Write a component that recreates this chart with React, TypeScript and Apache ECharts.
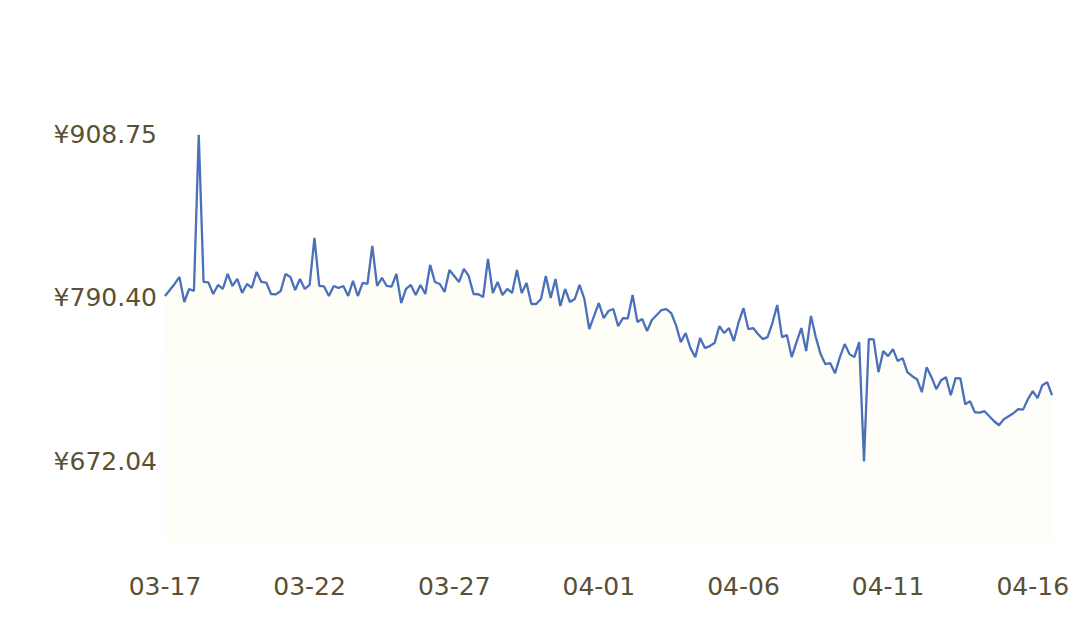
import React, { useEffect, useRef } from "react";
import * as echarts from "echarts";

const startDate = [2024, 2, 17]; // 2024-03-17 00:00
const stepHours = 4;
const tickLabels = ["03-17", "03-22", "03-27", "04-01", "04-06", "04-11", "04-16"];
const yTicks = [672.04, 790.4, 908.75];
const yMin = 612.86;
const yMax = 967.93;

const prices = [
  791.85, 796.2, 800.56, 805.64, 787.49, 796.93, 795.48, 908.75, 802.01, 801.7,
  793.3, 799.83, 796.93, 807.82, 799.11, 804.19, 794.03, 800.56, 797.66, 809.27,
  802.01, 801.6, 793.3, 793.0, 795.48, 807.82, 805.64, 796.2, 804.19, 796.93,
  799.83, 833.96, 799.11, 798.8, 791.85, 799.11, 797.66, 799.11, 791.85, 802.74,
  791.85, 801.29, 800.56, 828.15, 799.11, 804.92, 799.11, 798.7, 807.82, 786.77,
  796.93, 799.83, 792.57, 799.83, 793.3, 814.36, 802.01, 800.56, 794.75, 810.73,
  806.37, 802.01, 811.45, 806.37, 793.3, 793.1, 791.12, 818.71, 794.03, 802.01,
  792.57, 796.93, 794.03, 810.73, 794.03, 801.29, 786.04, 786.04, 789.67, 806.37,
  790.4, 804.19, 784.59, 796.93, 787.49, 789.67, 799.83, 789.67, 767.89, 777.33,
  786.77, 775.87, 780.96, 782.41, 770.06, 775.87, 775.6, 792.57, 772.97, 775.15,
  766.43, 774.42, 778.05, 781.68, 782.41, 779.5, 770.79, 758.45, 764.98, 754.09,
  747.56, 761.35, 754.09, 755.54, 757.72, 770.06, 764.98, 768.61, 759.17, 772.97,
  783.13, 767.89, 768.61, 764.26, 760.63, 762.08, 772.24, 785.31, 762.08, 763.53,
  747.56, 758.45, 768.61, 751.91, 777.33, 762.08, 749.73, 742.47, 743.2, 735.94,
  747.56, 757.0, 749.73, 747.56, 758.45, 672.04, 760.63, 760.4, 736.66, 751.91,
  748.28, 753.36, 744.65, 746.83, 736.66, 733.76, 731.58, 722.14, 740.29, 733.03,
  724.32, 730.86, 733.03, 719.96, 732.31, 732.1, 713.43, 715.61, 707.62, 707.4,
  708.35, 704.72, 701.09, 698.18, 702.54, 704.72, 706.89, 709.8, 709.5, 717.06,
  722.87, 717.79, 727.22, 729.4, 719.96,
];

const pad = (n: number) => (n < 10 ? "0" + n : "" + n);

const categories: string[] = prices.map((_, i) => {
  const d = new Date(startDate[0], startDate[1], startDate[2], i * stepHours, 0, 0);
  return `${pad(d.getMonth() + 1)}-${pad(d.getDate())} ${pad(d.getHours())}:00`;
});

export default function App() {
  const ref = useRef<HTMLDivElement>(null);
  useEffect(() => {
    if (!ref.current) return;
    const chart = echarts.init(ref.current, null, { renderer: "svg" });
    const labelColor = "#5a5034";
    chart.setOption({
      animation: false,
      backgroundColor: "#ffffff",
      grid: { left: 165, right: 28, top: 53, bottom: 75 },
      xAxis: {
        type: "category",
        data: categories,
        boundaryGap: false,
        axisLine: { show: false },
        axisTick: { show: false },
        splitLine: { show: false },
        axisLabel: {
          interval: (idx: number, val: string) =>
            val.endsWith("00:00") && tickLabels.includes(val.slice(0, 5)),
          formatter: (val: string) => val.slice(0, 5),
          color: labelColor,
          fontFamily: "DejaVu Sans",
          fontSize: 25,
          margin: 31,
        },
      },
      yAxis: {
        type: "value",
        min: yMin,
        max: yMax,
        axisLine: { show: false },
        axisTick: { show: false },
        splitLine: { show: false },
        axisLabel: {
          customValues: yTicks,
          formatter: (v: number) => "¥" + v.toFixed(2),
          color: labelColor,
          fontFamily: "DejaVu Sans",
          fontSize: 25,
          margin: 8,
        },
      },
      series: [
        {
          type: "line",
          data: prices,
          symbol: "none",
          lineStyle: { color: "#4a70bb", width: 2.3 },
          itemStyle: { color: "#4a70bb" },
          areaStyle: {
            color: new echarts.graphic.LinearGradient(0, 0, 0, 1, [
              { offset: 0, color: "rgba(252,248,220,0.45)" },
              { offset: 1, color: "rgba(252,250,230,0.35)" },
            ]),
          },
        },
      ],
    });
    return () => chart.dispose();
  }, []);
  return (
    <div
      ref={ref}
      style={{ position: "fixed", left: 0, top: 0, width: 1080, height: 618 }}
    />
  );
}
